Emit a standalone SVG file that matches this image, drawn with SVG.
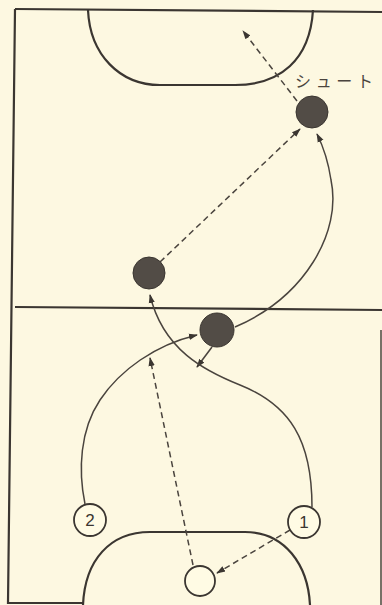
<svg xmlns="http://www.w3.org/2000/svg" width="382" height="605" viewBox="0 0 382 605">
<defs>
<style>
.ln{fill:none;stroke:#3b3631;stroke-width:2.2}
.cn{fill:none;stroke:#4a443e;stroke-width:1.5}
.ds{stroke-dasharray:6 4}
.ball{fill:#524c46;stroke:#3b3631;stroke-width:1}
.pl{fill:#fffbe4;stroke:#3b3631;stroke-width:1.8}
.lbl{font-family:"Liberation Sans",Arial,sans-serif;font-size:17px;fill:#3b3631}
.jp{font-family:"Noto Sans CJK JP",sans-serif;font-size:16px;fill:#4a443e}
</style>
<marker id="ah" viewBox="0 0 10 10" refX="9" refY="5" markerWidth="9" markerHeight="9" markerUnits="userSpaceOnUse" orient="auto">
<path d="M0,1.5 L10,5 L0,8.5 Z" fill="#3b3631"/>
</marker>
</defs>
<rect width="382" height="605" fill="#fdf8e1"/>
<g id="court">
<path class="ln" d="M15,9 L382,12"/>
<path class="ln" d="M15,9 L8,603 L83,603"/>
<path class="ln" d="M15,307 L382,310"/>
<path class="cn" d="M381,330 L381,605"/>
<path class="ln" d="M88,10 C90,55 120,85 160,85 L235,85 C280,85 310,60 313,10"/>
<path class="ln" d="M83,605 C85,560 110,532 150,532 L245,532 C285,532 308,565 310,605"/>
</g>
<g id="connectors">
<path class="cn ds" d="M297,101 L243,31" marker-end="url(#ah)"/>
<path class="cn ds" d="M160,262 L300,129" marker-end="url(#ah)"/>
<path class="cn" d="M235,327 C305,297 342,232 331,180 C328,160 323,146 317,134" marker-end="url(#ah)"/>
<path class="cn" d="M212,347 L197,367" marker-end="url(#ah)"/>
<path class="cn" d="M312,507 C312,440 290,405 240,385 C205,371 163,350 150,295" marker-end="url(#ah)"/>
<path class="cn" d="M85,504 C78,470 80,430 100,400 C120,370 155,345 197,335" marker-end="url(#ah)"/>
<path class="cn ds" d="M193,565 L150,358" marker-end="url(#ah)"/>
<path class="cn ds" d="M290,530 L217,573" marker-end="url(#ah)"/>
</g>
<g id="ball-top"><circle class="ball" cx="312" cy="112" r="16"/></g>
<g id="ball-left"><circle class="ball" cx="149" cy="273" r="16"/></g>
<g id="ball-mid"><circle class="ball" cx="217" cy="330" r="17"/></g>
<g id="player-2"><circle class="pl" cx="90" cy="520" r="16"/><text class="lbl" x="90" y="526" text-anchor="middle">2</text></g>
<g id="player-1"><circle class="pl" cx="304" cy="522" r="16"/><text class="lbl" x="304" y="528" text-anchor="middle">1</text></g>
<g id="player-o"><circle class="pl" cx="200" cy="581" r="15"/></g>
<g id="label-shoot"><text class="jp" x="295" y="87" textLength="78" lengthAdjust="spacing">シュート</text></g>
</svg>
